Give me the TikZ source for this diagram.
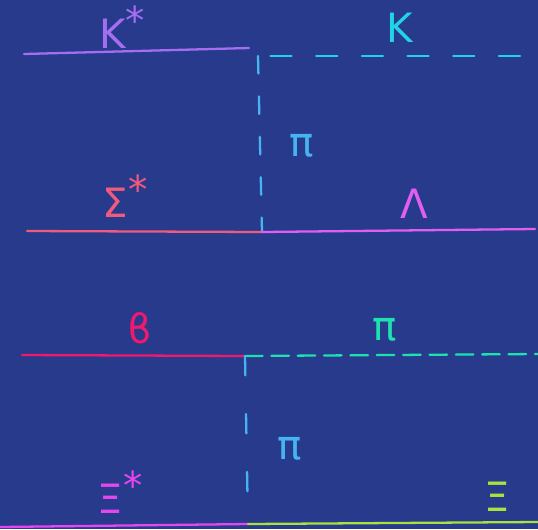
\documentclass[tikz,border=0pt]{standalone}
\usepackage{fontspec}
\setmainfont{DejaVu Sans}
\definecolor{bgblue}{RGB}{40,58,140}
\definecolor{kstar}{RGB}{165,110,240}
\definecolor{kaon}{RGB}{34,210,230}
\definecolor{pione}{RGB}{70,180,240}
\definecolor{sigstar}{RGB}{240,90,125}
\definecolor{lam}{RGB}{225,95,240}
\definecolor{bee}{RGB}{240,25,110}
\definecolor{pitwo}{RGB}{30,225,175}
\definecolor{xistar}{RGB}{230,70,240}
\definecolor{xi}{RGB}{170,225,60}
\newcommand{\st}{\raisebox{0.35em}{\fontsize{22}{24}\selectfont*}}
\tikzset{
  prop/.style={line width=1.3pt,line cap=round},
  meson/.style={prop,dash pattern=on 12pt off 14pt},
  lbl/.style={font=\fontsize{23}{26}\selectfont,inner sep=0pt}
}
\begin{document}
\begin{tikzpicture}[x=0.02cm,y=-0.02cm]
        \fill[bgblue] (0,0) rectangle (538,529);
        \useasboundingbox (0,0) rectangle (538,529);
        % upper vertex
        \coordinate (ksl) at (24,54);
        \coordinate (ksr) at (249,48);
        \coordinate (kc) at (258,56);
        \coordinate (kr) at (520,56);
        \coordinate (sl) at (27,231);
        \coordinate (sm) at (262,232);
        \coordinate (sr) at (535,229);
        \draw[prop,kstar] (ksl) -- (ksr);
        \draw[meson,kaon] (kr) -- (kc);
        \draw[meson,pione,dash pattern=on 10pt off 13pt] (kc) -- (sm);
        \draw[prop,sigstar] (sl) -- (sm);
        \draw[prop,lam] (sm) -- (sr);
        % lower vertex
        \coordinate (bl) at (22,355);
        \coordinate (bc) at (245,356);
        \coordinate (pr) at (538,354);
        \coordinate (xl) at (0,527);
        \coordinate (xm) at (248,524);
        \coordinate (xr) at (538,522);
        \draw[prop,bee] (bl) -- (bc);
        \draw[prop,pitwo,dash pattern=on 10pt off 5pt] (bc) -- (pr);
        \draw[meson,pione,dash pattern=on 11pt off 22pt] (bc) -- (xm);
        \draw[prop,xistar] (xl) -- (xm);
        \draw[prop,xi] (xm) -- (xr);
        % labels
        \node[lbl,kstar] (tks) at (122,27) {K\st};
        \node[lbl,kaon] (tk) at (400,28) {K};
        \node[lbl,pione] (tpa) at (302,146) {π};
        \node[lbl,sigstar] (ts) at (125,196) {Σ\st};
        \node[lbl,lam] (tl) at (414,204) {Λ};
        \node[lbl,bee] (tb) at (140,328) {ϐ};
        \node[lbl,pitwo] (tpb) at (385,330) {π};
        \node[lbl,pione] (tpc) at (290,449) {π};
        \node[lbl,xistar] (txs) at (120,492) {Ξ\st};
        \node[lbl,xi] (tx) at (497,497) {Ξ};
    \end{tikzpicture}
\end{document}
